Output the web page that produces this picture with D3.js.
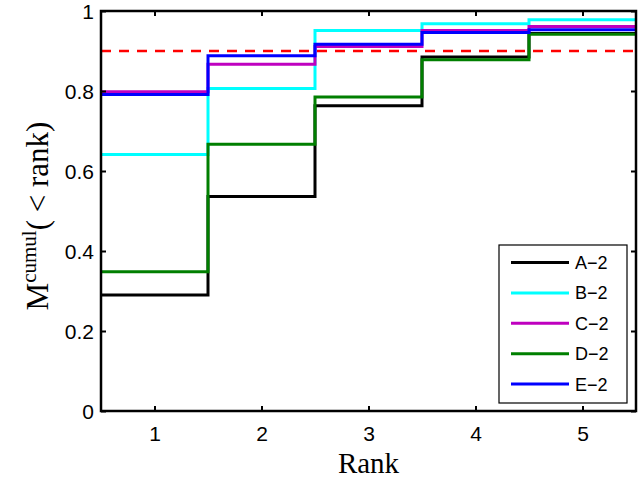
<!DOCTYPE html>
<html><head><meta charset="utf-8">
<script src="https://cdn.jsdelivr.net/npm/d3@7"></script>
<style>body{margin:0;background:#fff}svg{display:block}</style>
</head><body>
<svg id="c" width="641" height="479"></svg>
<script>
const ranks = [1, 2, 3, 4, 5];
const seriesNames = ["A\u22122", "B\u22122", "C\u22122", "D\u22122", "E\u22122"];
const seriesColors = ["#000000", "#00ffff", "#bf00bf", "#007f00", "#0000ff"];
const valuesA = [0.29, 0.536, 0.763, 0.885, 0.944];
const valuesB = [0.641, 0.806, 0.951, 0.968, 0.978];
const valuesC = [0.798, 0.867, 0.911, 0.951, 0.961];
const valuesD = [0.348, 0.667, 0.785, 0.878, 0.942];
const valuesE = [0.791, 0.888, 0.917, 0.946, 0.953];
const threshold = 0.9;
const xTicks = [1, 2, 3, 4, 5];
const yTicks = [0, 0.2, 0.4, 0.6, 0.8, 1];
const allValues = [valuesA, valuesB, valuesC, valuesD, valuesE];

const svg = d3.select("#c");
const L = 101, R = 636, T = 11, B = 411;
const x = d3.scaleLinear().domain([0.5, 5.5]).range([L, R]);
const y = d3.scaleLinear().domain([0, 1]).range([B, T]);

const line = d3.line().x(d => x(d[0])).y(d => y(d[1])).curve(d3.curveStepAfter);
allValues.forEach((vals, i) => {
  const pts = ranks.map((r, j) => [r - 0.5, vals[j]]);
  pts.push([ranks[ranks.length - 1] + 0.5, vals[vals.length - 1]]);
  svg.append("path").attr("d", line(pts)).attr("fill", "none")
    .attr("stroke", seriesColors[i]).attr("stroke-width", 3);
});

svg.append("line").attr("x1", x(0.5)).attr("x2", x(5.5))
  .attr("y1", y(threshold)).attr("y2", y(threshold))
  .attr("stroke", "#ff0000").attr("stroke-width", 2.5).attr("stroke-dasharray", "10,8");

const fontT = "Liberation Sans, Arial, sans-serif";
const ax = svg.append("g").attr("transform", `translate(0,${B})`)
  .call(d3.axisBottom(x).tickValues(xTicks).tickSize(-5).tickPadding(14).tickFormat(d3.format("d")));
const axT = svg.append("g").attr("transform", `translate(0,${T})`)
  .call(d3.axisTop(x).tickValues(xTicks).tickSize(-5).tickFormat(""));
const ay = svg.append("g").attr("transform", `translate(${L},0)`)
  .call(d3.axisLeft(y).tickValues(yTicks).tickSize(-5).tickPadding(7).tickFormat(d => d === 0 || d === 1 ? d3.format("d")(d) : d3.format(".1f")(d)));
const ayR = svg.append("g").attr("transform", `translate(${R},0)`)
  .call(d3.axisRight(y).tickValues(yTicks).tickSize(-5).tickFormat(""));
[ax, axT, ay, ayR].forEach(g => {
  g.select(".domain").remove();
  g.selectAll(".tick line").attr("stroke", "#000").attr("stroke-width", 2);
  g.selectAll("text").attr("font-family", fontT).attr("font-size", 21).attr("fill", "#000");
});
ax.selectAll("text").attr("dy", null).attr("y", 30);
ay.selectAll("text").attr("dy", "0.36em");
svg.append("rect").attr("x", L).attr("y", T).attr("width", R - L).attr("height", B - T)
  .attr("fill", "none").attr("stroke", "#000").attr("stroke-width", 2.5);

const serif = "Liberation Serif, Times New Roman, serif";
svg.append("text").attr("x", (L + R) / 2).attr("y", 473).attr("text-anchor", "middle")
  .attr("font-family", serif).attr("font-size", 29).text("Rank");
const yl = svg.append("text").attr("transform", `translate(48,216) rotate(-90)`)
  .attr("text-anchor", "middle").attr("font-family", serif).attr("font-size", 31);
yl.append("tspan").text("M");
yl.append("tspan").attr("font-size", 21).attr("dy", -12).text("cumul");
yl.append("tspan").attr("dy", 12).text("( < rank)");

const lg = svg.append("g");
lg.append("rect").attr("x", 499).attr("y", 245).attr("width", 128).attr("height", 158)
  .attr("fill", "#fff").attr("stroke", "#000").attr("stroke-width", 1.2);
seriesNames.forEach((n, i) => {
  const yy = 262.5 + i * 30.4;
  lg.append("line").attr("x1", 511).attr("x2", 569).attr("y1", yy).attr("y2", yy)
    .attr("stroke", seriesColors[i]).attr("stroke-width", 3);
  lg.append("text").attr("x", 575).attr("y", yy + 6.5).attr("font-family", fontT)
    .attr("font-size", 18).text(n);
});
</script>
</body></html>
